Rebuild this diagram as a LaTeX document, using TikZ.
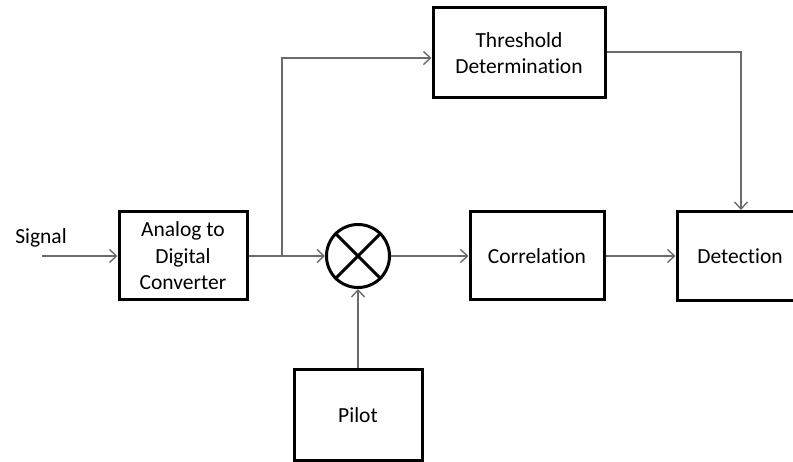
\documentclass[tikz,border=0pt]{standalone}
\usepackage{fontspec}
\setmainfont[Ligatures=NoCommon]{Carlito}
\usetikzlibrary{arrows.meta}
\begin{document}
\begin{tikzpicture}[x=1pt,y=-1pt,
  block/.style={draw=black,line width=3pt,inner sep=0pt,align=center,
    font=\fontsize{21.5}{26.5}\selectfont,text=black},
  label/.style={font=\fontsize{21.5}{26.5}\selectfont,text=black},
  conn/.style={draw=black!58,line width=1.4pt,
    -{Straight Barb[length=7pt,width=13pt,line width=1.4pt]}}]
  \useasboundingbox (0,0) rectangle (793,462);

  % processing blocks
  \node[block,minimum width=128pt,minimum height=88pt] (adc) at (183,256) {Analog to\\Digital\\Converter};
  \node[block,circle,minimum size=63pt] (mul) at (358,256) {};
  \draw[line width=3pt] (mul.45) -- (mul.225) (mul.135) -- (mul.315);
  \node[block,minimum width=134pt,minimum height=88pt] (cor) at (537,256) {Correlation};
  \node[block,minimum width=136pt,minimum height=89pt] (det) at (745,256) {};
  \node[label] (dett) at (740,256) {Detection};
  \node[block,minimum width=172pt,minimum height=90pt] (thr) at (519,53) {Threshold\\Determination};
  \node[block,minimum width=128pt,minimum height=90pt] (pil) at (358,415) {Pilot};

  % input label
  \node[label] (sig) at (41,238) {Signal};
  \coordinate (sigin) at (42,256);
  \coordinate (br) at (282,256);

  % signal flow
  \draw[conn] (sigin) -- (adc.west);
  \draw[conn] (adc.east) -- (mul.west);
  \draw[conn] (mul.east) -- (cor.west);
  \draw[conn] (cor.east) -- (det.west);
  \draw[conn] (pil.north) -- (mul.south);
  \draw[conn] (br) |- ([yshift=-5pt]thr.west);
  \draw[conn] ([yshift=1pt]thr.east) -| ([xshift=-4pt]det.north);
\end{tikzpicture}
\end{document}
